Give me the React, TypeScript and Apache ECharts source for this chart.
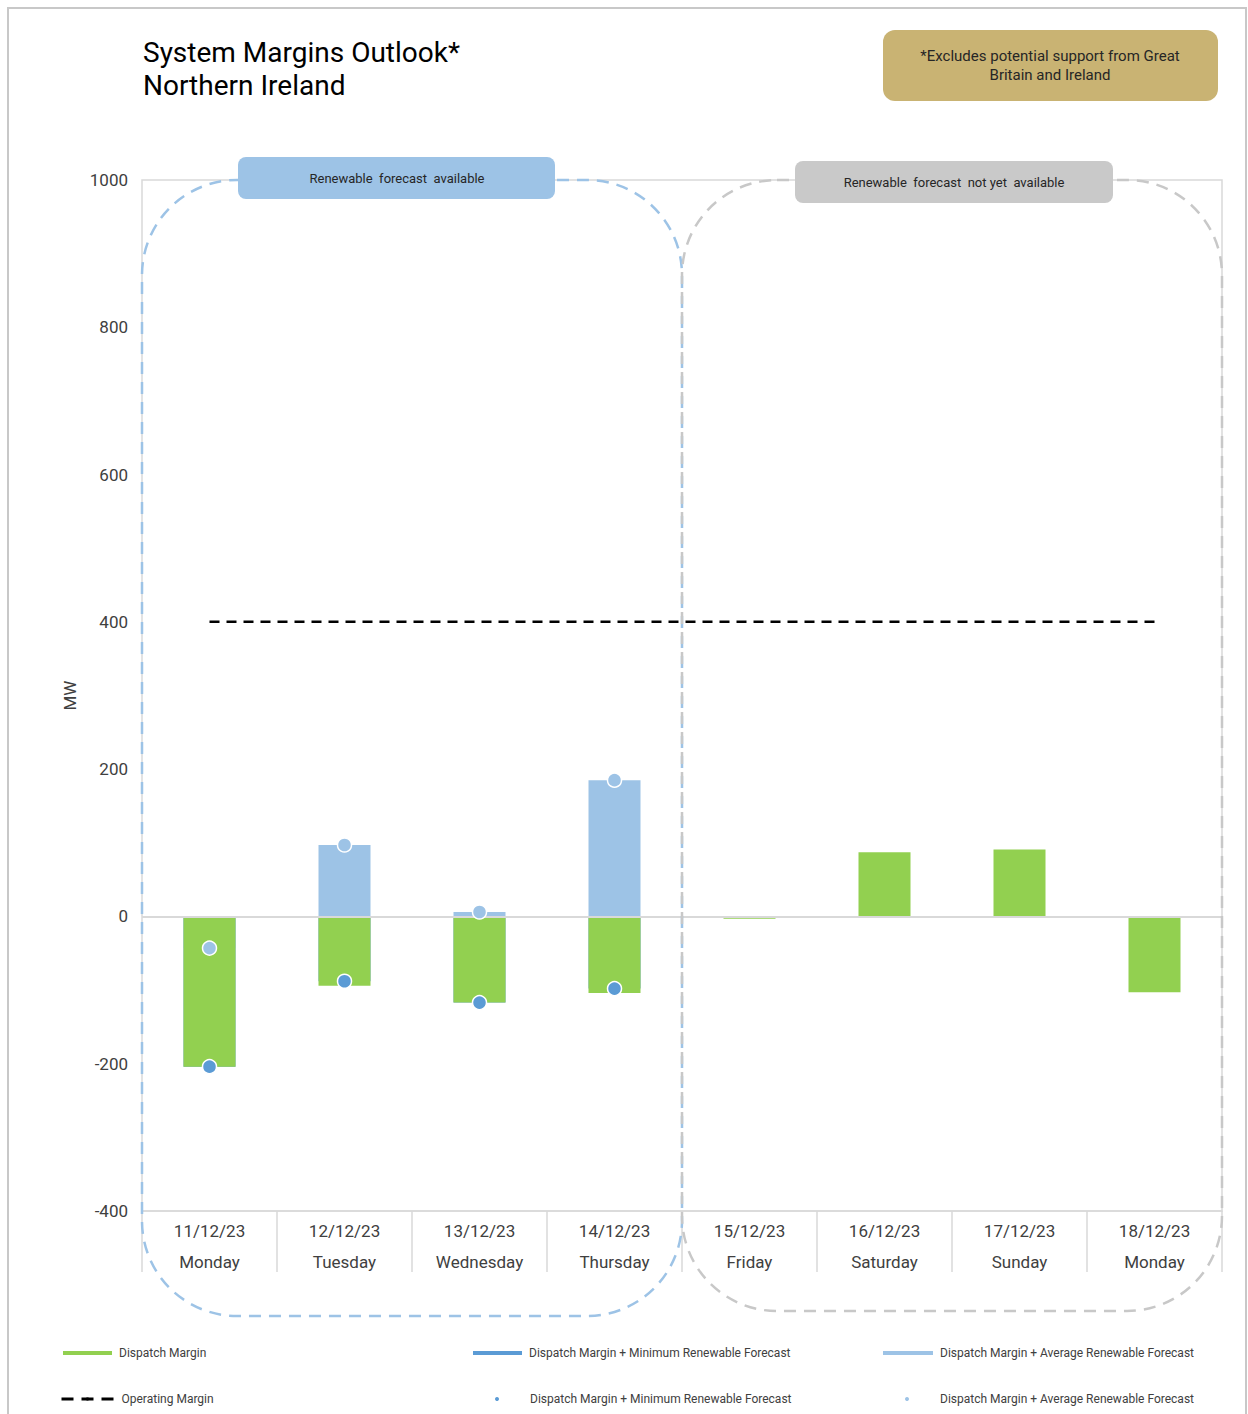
import React, { useEffect, useRef } from 'react';
import * as echarts from 'echarts';

const dates = ['11/12/23', '12/12/23', '13/12/23', '14/12/23', '15/12/23', '16/12/23', '17/12/23', '18/12/23'];
const weekdays = ['Monday', 'Tuesday', 'Wednesday', 'Thursday', 'Friday', 'Saturday', 'Sunday', 'Monday'];
const dispatchMargin = [-204, -94, -117, -104, -3, 87, 91, -103];
const minRenewable = [-204, -88, -117, -98, null, null, null, null];
const avgRenewable = [-43, 97, 6, 185, null, null, null, null];
const operatingMargin = [400, 400, 400, 400, 400, 400, 400, 400];
const yMin = -400;
const yMax = 1000;
const yInterval = 200;

const GREEN = '#92D050';
const DARK_BLUE = '#5B9BD5';
const LIGHT_BLUE = '#9DC3E6';
const FONT = 'Roboto';

export default function App() {
  const ref = useRef<HTMLDivElement>(null);
  useEffect(() => {
    if (!ref.current) return;
    const chart = echarts.init(ref.current, undefined, { renderer: 'svg' });
    const legendText = { fontFamily: FONT, fontSize: 12, color: '#404040' };
    const legendBase = { orient: 'horizontal', selectedMode: false, itemGap: 0, padding: 0 };
    const option: any = {
      animation: false,
      backgroundColor: '#ffffff',
      grid: {
        left: 142,
        right: 26,
        top: 180,
        bottom: 203,
        show: true,
        borderColor: '#d9d9d9',
        borderWidth: 1.5,
        containLabel: false,
      },
      xAxis: {
        type: 'category',
        data: dates,
        axisLine: { onZero: false, lineStyle: { color: '#d9d9d9', width: 1.5 } },
        axisTick: { show: true, interval: 0, length: 61, lineStyle: { color: '#d9d9d9', width: 1.5 } },
        axisLabel: {
          interval: 0,
          margin: 4,
          fontFamily: FONT,
          fontSize: 17,
          color: '#404040',
          lineHeight: 31,
          formatter: (v: string, i: number) => `${v}\n${weekdays[i]}`,
        },
        splitLine: { show: false },
      },
      yAxis: {
        type: 'value',
        min: yMin,
        max: yMax,
        interval: yInterval,
        name: 'MW',
        nameLocation: 'middle',
        nameGap: 60,
        nameTextStyle: { fontFamily: FONT, fontSize: 17, color: '#404040' },
        axisLine: { show: false },
        axisTick: { show: false },
        splitLine: { show: false },
        axisLabel: { margin: 14, fontFamily: FONT, fontSize: 17, color: '#404040', formatter: (v: number) => String(v) },
      },
      legend: [
        { ...legendBase, left: 63, top: 1347, icon: 'rect', itemWidth: 49, itemHeight: 4, textStyle: { ...legendText, padding: [0, 0, 0, 2] }, data: ['Dispatch Margin'] },
        { ...legendBase, left: 473, top: 1347, icon: 'rect', itemWidth: 49, itemHeight: 4, textStyle: { ...legendText, padding: [0, 0, 0, 2] }, data: ['Dispatch Margin + Minimum Renewable Forecast'] },
        { ...legendBase, left: 883, top: 1347, icon: 'rect', itemWidth: 50, itemHeight: 4, textStyle: { ...legendText, padding: [0, 0, 0, 2] }, data: ['Dispatch Margin + Average Renewable Forecast'] },
        {
          ...legendBase, left: 60, top: 1393, itemWidth: 52, itemHeight: 4, textStyle: { ...legendText, padding: [0, 0, 0, 3] },
          data: [{ name: 'Operating Margin', lineStyle: { type: [12, 8], width: 3, color: '#000000' } }],
        },
        {
          ...legendBase, left: 495, top: 1393, icon: 'circle', itemWidth: 4, itemHeight: 4, textStyle: { ...legendText, padding: [0, 0, 0, 26] },
          formatter: () => 'Dispatch Margin + Minimum Renewable Forecast',
          data: [{ name: 'Min Renewable Points', itemStyle: { borderWidth: 0 } }],
        },
        {
          ...legendBase, left: 905, top: 1393, icon: 'circle', itemWidth: 4, itemHeight: 4, textStyle: { ...legendText, padding: [0, 0, 0, 26] },
          formatter: () => 'Dispatch Margin + Average Renewable Forecast',
          data: [{ name: 'Avg Renewable Points', itemStyle: { borderWidth: 0 } }],
        },
      ],
      series: [
        {
          name: 'Dispatch Margin + Minimum Renewable Forecast',
          type: 'bar',
          data: minRenewable,
          barWidth: 52,
          barGap: '-100%',
          itemStyle: { color: DARK_BLUE },
          z: 1,
        },
        {
          name: 'Dispatch Margin + Average Renewable Forecast',
          type: 'bar',
          data: avgRenewable,
          barWidth: 52,
          barGap: '-100%',
          itemStyle: { color: LIGHT_BLUE },
          z: 2,
        },
        {
          name: 'Dispatch Margin',
          type: 'bar',
          data: dispatchMargin,
          barWidth: 52,
          barGap: '-100%',
          itemStyle: { color: GREEN },
          z: 3,
          markLine: {
            silent: true,
            symbol: 'none',
            label: { show: false },
            lineStyle: { color: '#d9d9d9', type: 'solid', width: 2 },
            data: [{ yAxis: 0 }],
          },
        },
        {
          name: 'Operating Margin',
          type: 'line',
          data: operatingMargin,
          symbol: 'none',
          lineStyle: { color: '#000000', type: [10, 7], width: 2.5 },
          itemStyle: { color: '#000000' },
          z: 4,
        },
        {
          name: 'Min Renewable Points',
          type: 'scatter',
          data: minRenewable,
          symbol: 'circle',
          symbolSize: 14,
          itemStyle: { color: DARK_BLUE, borderColor: '#ffffff', borderWidth: 1.5, opacity: 1 },
          z: 5,
        },
        {
          name: 'Avg Renewable Points',
          type: 'scatter',
          data: avgRenewable,
          symbol: 'circle',
          symbolSize: 14,
          itemStyle: { color: LIGHT_BLUE, borderColor: '#ffffff', borderWidth: 1.5, opacity: 1 },
          z: 5,
        },
      ],
      graphic: [
        {
          type: 'rect', z: 0, silent: true,
          shape: { x: 8, y: 8, width: 1238, height: 1440 },
          style: { fill: 'none', stroke: '#c8c8c8', lineWidth: 2 },
        },
        {
          type: 'text', left: 143, top: 36, z: 10,
          style: { text: 'System Margins Outlook*\nNorthern Ireland', fontFamily: FONT, fontSize: 28, fontWeight: 400, lineHeight: 33, fill: '#000000' },
        },
        {
          type: 'rect', z: 10,
          shape: { x: 883, y: 30, width: 335, height: 71, r: 12 },
          style: { fill: '#C9B373' },
        },
        {
          type: 'text', z: 11, x: 1050, y: 65.5,
          style: { text: '*Excludes potential support from Great\nBritain and Ireland', fontFamily: FONT, fontSize: 15, lineHeight: 19, fill: '#262626', align: 'center', verticalAlign: 'middle' },
        },
        {
          type: 'rect', z: 20, silent: true,
          shape: { x: 142, y: 180, width: 540, height: 1136, r: 95 },
          style: { fill: 'none', stroke: LIGHT_BLUE, lineWidth: 2.5, lineDash: [12, 8] },
        },
        {
          type: 'rect', z: 21, silent: true,
          shape: { x: 682, y: 180, width: 540, height: 1131, r: 95 },
          style: { fill: 'none', stroke: '#C8C8C8', lineWidth: 2.5, lineDash: [12, 8] },
        },
        {
          type: 'rect', z: 30,
          shape: { x: 238, y: 157, width: 317, height: 42, r: 8 },
          style: { fill: LIGHT_BLUE },
        },
        {
          type: 'text', z: 31, x: 397, y: 178,
          style: { text: 'Renewable  forecast  available', fontFamily: FONT, fontSize: 13, fill: '#262626', align: 'center', verticalAlign: 'middle' },
        },
        {
          type: 'rect', z: 30,
          shape: { x: 795, y: 161, width: 318, height: 42, r: 8 },
          style: { fill: '#C9C9C9' },
        },
        {
          type: 'text', z: 31, x: 954, y: 182,
          style: { text: 'Renewable  forecast  not yet  available', fontFamily: FONT, fontSize: 13, fill: '#262626', align: 'center', verticalAlign: 'middle' },
        },
      ],
    };
    chart.setOption(option);
    return () => chart.dispose();
  }, []);
  return <div ref={ref} style={{ position: 'absolute', left: 0, top: 0, width: 1248, height: 1414 }} />;
}
